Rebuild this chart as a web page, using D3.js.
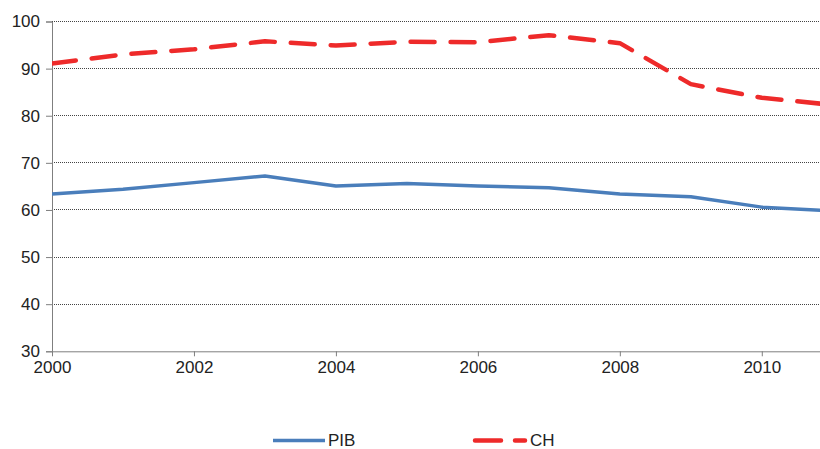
<!DOCTYPE html>
<html>
<head>
<meta charset="utf-8">
<script src="https://cdn.jsdelivr.net/npm/d3@7/dist/d3.min.js"></script>
<style>
  html, body { margin: 0; padding: 0; background: #fff; }
  svg { display: block; font-family: "Liberation Sans", Arial, sans-serif; }
</style>
</head>
<body>
<svg id="chart" width="820" height="449"></svg>
<script>
const years = [2000, 2001, 2002, 2003, 2004, 2005, 2006, 2007, 2008, 2009, 2010, 2011];
const pib = [63.4, 64.4, 65.8, 67.2, 65.1, 65.6, 65.1, 64.7, 63.4, 62.8, 60.6, 59.8];
const ch  = [91.1, 93.0, 94.1, 95.8, 94.9, 95.7, 95.6, 97.1, 95.4, 86.7, 83.8, 82.3];
const yTicks = [30, 40, 50, 60, 70, 80, 90, 100];
const xTicks = [2000, 2002, 2004, 2006, 2008, 2010];
const seriesNames = ["PIB", "CH"];

(function () {
const svg = d3.select("#chart");
const mLeft = 52, mRight = 820, mTop = 21.5, mBottom = 351.3;
const fs = 17;

const x = d3.scaleLinear().domain([2000, 2010.82]).range([mLeft, mRight]);
const y = d3.scaleLinear().domain([30, 100]).range([mBottom, mTop]);

svg.append("defs").append("clipPath").attr("id", "plotclip")
  .append("rect").attr("x", mLeft).attr("y", 0).attr("width", mRight - mLeft).attr("height", mBottom + 5);

// gridlines
svg.append("g").selectAll("line").data(yTicks.filter(d => d > 30)).join("line")
  .attr("x1", mLeft).attr("x2", mRight)
  .attr("y1", d => y(d)).attr("y2", d => y(d))
  .attr("stroke", "#444").attr("stroke-width", 1).attr("stroke-dasharray", "1,1")
  .attr("shape-rendering", "crispEdges");

// y axis
const yAxis = svg.append("g").attr("transform", `translate(${mLeft},0)`)
  .call(d3.axisLeft(y).tickValues(yTicks).tickSize(6).tickPadding(6).tickFormat(d3.format("d")));
yAxis.select(".domain").attr("stroke", "#7f7f7f");
yAxis.selectAll(".tick line").attr("stroke", "#7f7f7f");
yAxis.selectAll("text").attr("font-size", fs).attr("fill", "#222")
  .attr("font-family", "Liberation Sans, Arial, sans-serif");

// x axis
const xAxis = svg.append("g").attr("transform", `translate(0,${mBottom})`)
  .call(d3.axisBottom(x).tickValues(xTicks).tickSize(5).tickSizeOuter(0).tickPadding(5).tickFormat(d3.format("d")));
xAxis.select(".domain").attr("stroke", "#7f7f7f");
xAxis.selectAll(".tick line").attr("stroke", "#7f7f7f");
xAxis.selectAll("text").attr("font-size", fs).attr("fill", "#222")
  .attr("font-family", "Liberation Sans, Arial, sans-serif");

const line = d3.line().x((d, i) => x(years[i])).y(d => y(d));

const plot = svg.append("g").attr("clip-path", "url(#plotclip)");
plot.append("path").datum(pib).attr("d", line)
  .attr("fill", "none").attr("stroke", "#4a7ebb").attr("stroke-width", 3.5)
  .attr("stroke-linejoin", "round");
plot.append("path").datum(ch).attr("d", line)
  .attr("fill", "none").attr("stroke", "#ee2a2a").attr("stroke-width", 4.5)
  .attr("stroke-linecap", "round").attr("stroke-linejoin", "round")
  .attr("stroke-dasharray", "24,16");

// legend
const ly = 440.5;
const lg = svg.append("g");
lg.append("line").attr("x1", 273).attr("x2", 325).attr("y1", ly).attr("y2", ly)
  .attr("stroke", "#4a7ebb").attr("stroke-width", 3.5);
lg.append("text").attr("x", 328).attr("y", ly + 5.5).attr("font-size", fs).attr("fill", "#222").text(seriesNames[0]);
lg.append("line").attr("x1", 475).attr("x2", 525).attr("y1", ly).attr("y2", ly)
  .attr("stroke", "#ee2a2a").attr("stroke-width", 4.5).attr("stroke-linecap", "round")
  .attr("stroke-dasharray", "26,14");
lg.append("text").attr("x", 530).attr("y", ly + 5.5).attr("font-size", fs).attr("fill", "#222").text(seriesNames[1]);
})();
</script>
</body>
</html>
